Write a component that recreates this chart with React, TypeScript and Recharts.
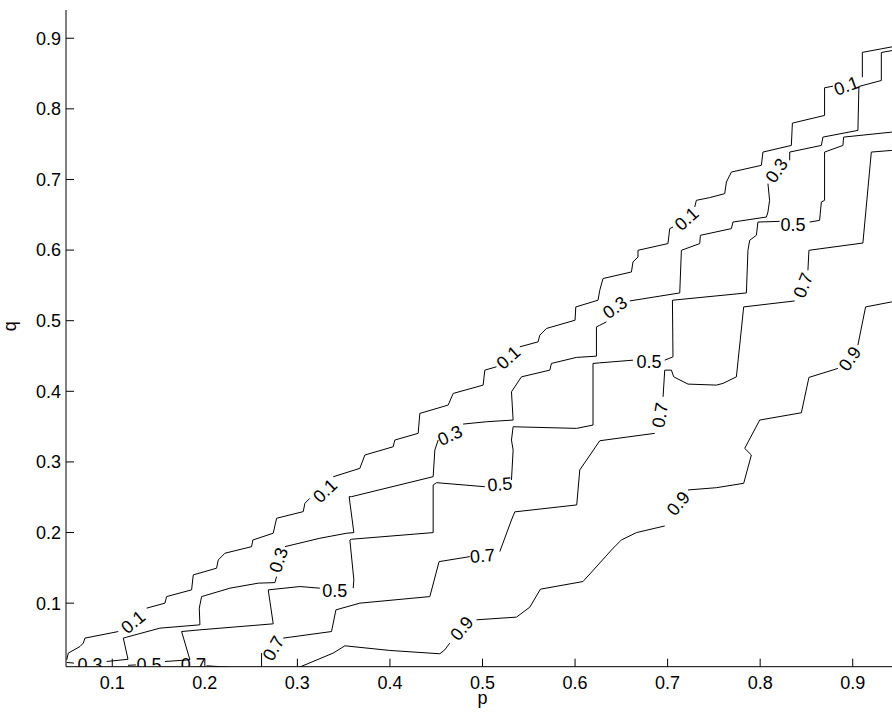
import { ComposedChart, Line, Scatter, XAxis, YAxis } from "recharts";

type Pt = [number, number] | null;

const xTicks = [0.1, 0.2, 0.3, 0.4, 0.5, 0.6, 0.7, 0.8, 0.9];
const yTicks = [0.1, 0.2, 0.3, 0.4, 0.5, 0.6, 0.7, 0.8, 0.9];

// contour lines, null = gap where a label sits
const level01: Pt[] = [
  [0.0508, 0.0198], [0.0525, 0.0293], [0.0651, 0.0386], [0.0687, 0.0434], [0.0705, 0.0505], [0.1065, 0.0598],
  null,
  [0.1371, 0.0929], [0.1569, 0.1], [0.1587, 0.1093], [0.1857, 0.1188], [0.1875, 0.14], [0.2127, 0.1495],
  [0.2145, 0.1612], [0.2217, 0.1707], [0.2505, 0.18], [0.2519, 0.1895], [0.2739, 0.199], [0.2775, 0.2202],
  [0.3063, 0.2296], [0.3081, 0.2414], [0.3135, 0.2485],
  null,
  [0.3387, 0.279], [0.3675, 0.2909], [0.3729, 0.3098], [0.4035, 0.3215], [0.4053, 0.331], [0.4305, 0.3405],
  [0.4323, 0.3687], [0.4629, 0.3805], [0.4683, 0.397], [0.5007, 0.4088], [0.5025, 0.43], [0.5151, 0.4347],
  null,
  [0.5403, 0.463], [0.56, 0.47], [0.5619, 0.4795], [0.5691, 0.489], [0.6, 0.5007], [0.6008, 0.5195],
  [0.6248, 0.529], [0.6267, 0.5431], [0.6302, 0.5597], [0.6609, 0.569], [0.6626, 0.5832], [0.668, 0.5902],
  [0.668, 0.5997], [0.7004, 0.6092], [0.7023, 0.6304], [0.7058, 0.6327],
  null,
  [0.7293, 0.661], [0.7311, 0.6705], [0.7455, 0.6743], [0.7617, 0.6799], [0.7635, 0.6963], [0.7689, 0.7105],
  [0.8013, 0.72], [0.803, 0.7388], [0.8337, 0.7482], [0.8348, 0.7798], [0.8696, 0.7907], [0.8696, 0.8299],
  [0.8786, 0.8321],
  null,
  [0.9104, 0.8448], [0.9104, 0.88], [0.9309, 0.885], [0.95, 0.8897],
];

const level03: Pt[] = [
  [0.0508, 0.016], [0.0586, 0.0151],
  null,
  [0.094, 0.0174], [0.117, 0.0205], [0.1119, 0.0505], [0.1156, 0.0519], [0.1515, 0.0646], [0.1947, 0.0693],
  [0.194, 0.0929], [0.1965, 0.1093], [0.2271, 0.1212], [0.2577, 0.1283], [0.2757, 0.1291], [0.2775, 0.1376],
  null,
  [0.2865, 0.18], [0.3243, 0.1919], [0.3531, 0.199], [0.361, 0.1999], [0.3559, 0.2508], [0.3585, 0.2508],
  [0.4467, 0.2791], [0.4485, 0.3168], [0.4521, 0.331],
  null,
  [0.4791, 0.3536], [0.5043, 0.3569], [0.5331, 0.3593], [0.5313, 0.3993], [0.5421, 0.4205], [0.5727, 0.43],
  [0.5745, 0.4395], [0.6015, 0.448], [0.6231, 0.4498], [0.6231, 0.4912], [0.6267, 0.4936], [0.6339, 0.4983],
  null,
  [0.6591, 0.528], [0.7131, 0.5393], [0.7149, 0.5997], [0.7347, 0.6092], [0.7354, 0.6209], [0.7689, 0.6304],
  [0.7706, 0.6397], [0.8067, 0.6468], [0.8084, 0.6539], [0.8102, 0.6705], [0.8084, 0.6941],
  null,
  [0.8319, 0.7271], [0.8319, 0.7388], [0.8661, 0.7482], [0.8678, 0.76], [0.9056, 0.7695], [0.9067, 0.8317],
  [0.9309, 0.8402], [0.9309, 0.8798], [0.95, 0.8843],
];

const level05: Pt[] = [
  [0.117, 0.012], [0.1255, 0.0125],
  null,
  [0.1569, 0.0174], [0.1731, 0.0188], [0.1839, 0.0198], [0.1749, 0.0598], [0.1947, 0.0622], [0.2739, 0.0707],
  [0.2685, 0.1188], [0.3027, 0.1235], [0.3243, 0.1212],
  null,
  [0.3603, 0.1212], [0.361, 0.133], [0.3567, 0.1895], [0.3585, 0.1905], [0.4467, 0.1999], [0.4467, 0.2673],
  [0.4503, 0.2706], [0.5025, 0.2649],
  null,
  [0.5313, 0.2744], [0.5331, 0.3168], [0.5313, 0.331], [0.5331, 0.3498], [0.6015, 0.3475], [0.6194, 0.3522],
  [0.6194, 0.4395], [0.6267, 0.4403], [0.6626, 0.4441],
  null,
  [0.6969, 0.4441], [0.7058, 0.4488], [0.7052, 0.529], [0.7851, 0.5393], [0.7868, 0.5997], [0.7887, 0.6139],
  [0.7959, 0.6209], [0.7976, 0.6397], [0.821, 0.6407],
  null,
  [0.8535, 0.6397], [0.8642, 0.6421], [0.8661, 0.668], [0.8696, 0.6705], [0.8696, 0.7388], [0.8894, 0.7482],
  [0.8902, 0.76], [0.9417, 0.767], [0.95, 0.768],
];

const level07: Pt[] = [
  [0.2019, 0.0113], [0.2235, 0.0095], [0.2433, 0.0057], [0.2613, 0.0092], [0.2613, 0.0293],
  null,
  [0.2847, 0.0505], [0.3369, 0.0598], [0.3416, 0.0905], [0.3675, 0.1], [0.4431, 0.1093], [0.4531, 0.1588],
  [0.4863, 0.1659],
  null,
  [0.5187, 0.173], [0.5313, 0.2178], [0.5349, 0.2293], [0.6018, 0.2391], [0.6051, 0.2886], [0.6267, 0.33],
  [0.6861, 0.3405],
  null,
  [0.6951, 0.3922], [0.6969, 0.43], [0.7041, 0.43], [0.7066, 0.4205], [0.722, 0.4102], [0.7527, 0.4088],
  [0.7598, 0.4112], [0.7743, 0.4205], [0.7822, 0.5195], [0.8373, 0.528],
  null,
  [0.8516, 0.5714], [0.8527, 0.5997], [0.911, 0.61], [0.9201, 0.7388], [0.9417, 0.7411], [0.95, 0.7419],
];

const level09: Pt[] = [
  [0.2998, 0.008], [0.3387, 0.0293], [0.3513, 0.0396], [0.3999, 0.033], [0.4539, 0.0283], [0.4593, 0.034],
  [0.4647, 0.0434],
  null,
  [0.4935, 0.0764], [0.5367, 0.0802], [0.5511, 0.0943], [0.5626, 0.1198], [0.6086, 0.1306], [0.6411, 0.1778],
  [0.6501, 0.1895], [0.6663, 0.1999], [0.6969, 0.2093],
  null,
  [0.722, 0.2603], [0.7527, 0.2635], [0.7822, 0.2697], [0.7905, 0.3098], [0.7833, 0.3192], [0.7995, 0.3593],
  [0.8445, 0.3696], [0.8527, 0.4197], [0.884, 0.4324],
  null,
  [0.9056, 0.4654], [0.9139, 0.5195], [0.942, 0.5266], [0.95, 0.5283],
];

const contourLabels = [
  { text: "0.1", p: 0.1224, q: 0.0736, angle: -40 },
  { text: "0.1", p: 0.3297, q: 0.2593, angle: -44 },
  { text: "0.1", p: 0.5277, q: 0.448, angle: -42 },
  { text: "0.1", p: 0.7203, q: 0.6446, angle: -42 },
  { text: "0.1", p: 0.893, q: 0.833, angle: -20 },
  { text: "0.3", p: 0.0759, q: 0.013, angle: 0 },
  { text: "0.3", p: 0.2793, q: 0.1612, angle: -72 },
  { text: "0.3", p: 0.4647, q: 0.338, angle: -25 },
  { text: "0.3", p: 0.6429, q: 0.5191, angle: -35 },
  { text: "0.3", p: 0.8175, q: 0.7129, angle: -55 },
  { text: "0.5", p: 0.1398, q: 0.013, angle: 0 },
  { text: "0.5", p: 0.3405, q: 0.1178, angle: 0 },
  { text: "0.5", p: 0.5187, q: 0.2687, angle: -5 },
  { text: "0.5", p: 0.6799, q: 0.4417, angle: 0 },
  { text: "0.5", p: 0.8354, q: 0.6365, angle: 0 },
  { text: "0.7", p: 0.1875, q: 0.013, angle: 0 },
  { text: "0.7", p: 0.2739, q: 0.0364, angle: -60 },
  { text: "0.7", p: 0.5, q: 0.1675, angle: -5 },
  { text: "0.7", p: 0.6915, q: 0.3663, angle: -80 },
  { text: "0.7", p: 0.8462, q: 0.5502, angle: -68 },
  { text: "0.9", p: 0.4773, q: 0.0646, angle: -50 },
  { text: "0.9", p: 0.7112, q: 0.2414, angle: -50 },
  { text: "0.9", p: 0.8966, q: 0.4465, angle: -55 },
];

const FONT = "'Liberation Sans', Arial, Helvetica, sans-serif";

const toRows = (pts: Pt[]) => {
  const rows: { p: number; q: number | null }[] = [];
  let lastP = 0;
  for (const pt of pts) {
    if (pt === null) rows.push({ p: lastP, q: null });
    else {
      rows.push({ p: pt[0], q: pt[1] });
      lastP = pt[0];
    }
  }
  return rows;
};

const contours = [level01, level03, level05, level07, level09].map(toRows);

const LabelShape = (props: any) => {
  const { cx, cy, payload } = props;
  return (
    <text
      x={cx}
      y={cy}
      dy="0.36em"
      textAnchor="middle"
      fontSize={18}
      fontFamily={FONT}
      fill="#000"
      transform={`rotate(${payload.angle} ${cx} ${cy})`}
    >
      {payload.text}
    </text>
  );
};

const QLabel = (props: any) => {
  const { viewBox } = props;
  const x = viewBox.x + 16;
  const y = viewBox.y + viewBox.height / 2 - 12;
  return (
    <text x={x} y={y} textAnchor="middle" fontSize={18} fontFamily={FONT} fill="#000" transform={`rotate(-90 ${x} ${y})`}>
      q
    </text>
  );
};

const tickStyle = { fill: "#000", fontSize: 18, fontFamily: FONT };
const noText = () => "";

export default function App() {
  return (
    <div style={{ position: "absolute", left: 0, top: 0, width: 892, height: 715, overflow: "hidden", background: "#fff" }}>
      <ComposedChart width={910} height={715} margin={{ top: 10, right: 11, bottom: 0, left: 0 }}>
        <XAxis
          dataKey="p"
          type="number"
          domain={[0.05, 0.95]}
          allowDataOverflow
          ticks={xTicks}
          interval={0}
          tickFormatter={(v) => v.toFixed(1)}
          tickSize={-8}
          tickMargin={18}
          height={48.3}
          stroke="#000"
          tick={tickStyle}
          label={{ value: "p", position: "insideBottom", offset: 11, fill: "#000", fontSize: 18, fontFamily: FONT }}
        />
        <XAxis
          xAxisId="top"
          orientation="top"
          type="number"
          domain={[0.05, 0.95]}
          allowDataOverflow
          ticks={xTicks}
          interval={0}
          tickFormatter={noText}
          tickSize={-8}
          height={0}
          stroke="#000"
        />
        <YAxis
          type="number"
          domain={[0.01, 0.94]}
          allowDataOverflow
          ticks={yTicks}
          interval={0}
          tickFormatter={(v) => v.toFixed(1)}
          tickSize={-8}
          tickMargin={13}
          width={66}
          stroke="#000"
          tick={tickStyle}
          label={<QLabel />}
        />
        <YAxis
          yAxisId="right"
          orientation="right"
          type="number"
          domain={[0.01, 0.94]}
          allowDataOverflow
          ticks={yTicks}
          interval={0}
          tickFormatter={noText}
          tickSize={-8}
          width={0}
          stroke="#000"
        />
        {contours.map((rows, i) => (
          <Line
            key={i}
            data={rows}
            dataKey="q"
            type="linear"
            stroke="#000"
            strokeWidth={1}
            dot={false}
            activeDot={false}
            connectNulls={false}
            isAnimationActive={false}
          />
        ))}
        <Scatter data={contourLabels} dataKey="q" shape={<LabelShape />} isAnimationActive={false} />
      </ComposedChart>
    </div>
  );
}
